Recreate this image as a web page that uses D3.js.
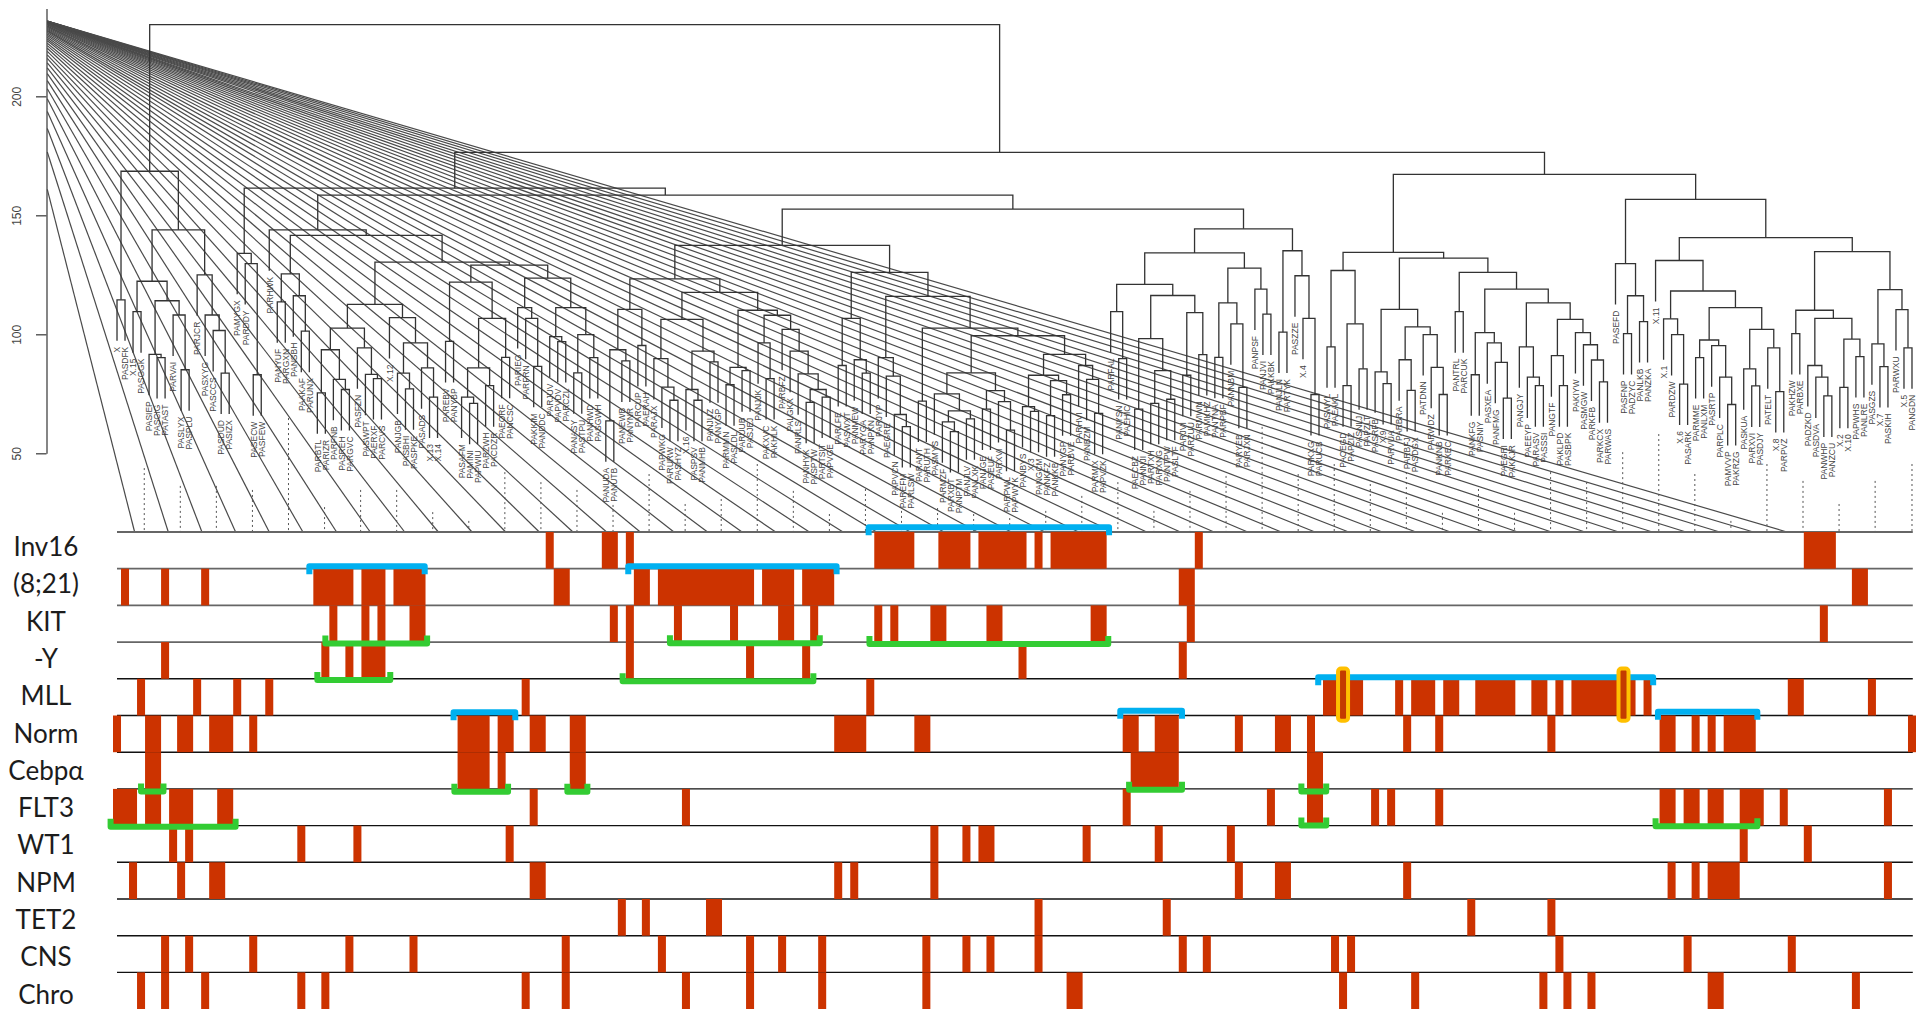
<!DOCTYPE html>
<html lang="en">
    <head>
        <title>AML dendrogram with mutation tracks</title>
        <meta charset="utf-8">
        <script src="https://d3js.org/d3.v7.min.js"></script>
        <style>
            * {
                margin: 0;
                padding: 0;
            }
            body {
                background-color: white;
                overflow: hidden;
            }
            svg {
                display: block;
            }
            .leaf {
                font-family: "Liberation Sans", Arial, sans-serif;
                font-size: 8.5px;
                fill: #444;
            }
            .rowLabel {
                font-family: Lato, sans-serif;
                font-size: 26px;
                fill: #1c1c1c;
            }
            .tick text {
                font-family: "Liberation Sans", Arial, sans-serif;
                font-size: 12px;
                fill: #444;
            }
        </style>
    </head>
    <body>
        <script>

            const leafNames = ["X","PASDFK","X.15","PASGGK","PASIEP","PASCIG","PATAST","PARVAI","PASLYX","PASPLU","PARJCR","PASXYG","PASCCS","PASDUD","PASIZX",
                "PAMYGX","PARDDY","PASECW","PASFEW","PARHWK","PANYUF","PARGXN","PANSBH","PAAKAF","PARUNX","PARBTL","PARIZR","PARFNB","PASREH","PARGVC",
                "PASFZN","PASWPT","PAERXF","PARCVS","X.12","PANJGB","PASBHI","PASPKE","PASADS","X.13","X.14","PAREBV","PANYBP","PASAFM","PAMINI",
                "PAPWIU","PARZWH","PACDZR","PAEORF","PANCSC","PARIEG","PARFRN","PAKKIM","PANDDC","PARJUV","PAPVDV","PARCZL","PANASY","PASTPU","PANHWD",
                "PASGWH","PANUDA","PANUTB","PANEWB","PANYNR","PARCUP","PAERAH","PARAJX","PAPWKG","PARURW","PASHYZ","X.16","PASPSV","PANMHB","PANJUZ",
                "PANYGP","PARMMN","PASLDL","PARUUB","PASJEJ","PANJJK","PAKXVC","PAKHLK","PARBFZ","PALGKX","PANRLS","PANHYK","PASPTW","PARTSIT","PAPVGE",
                "PARLFE","PASWXT","PANMEW","PARYGA","PANPKN","PARJYP","PAEGRE","PAPVCN","PAREFM","PARLSW","PARANT","PARUTH","PASMYS","PARMZF","PARXBT",
                "PANPTM","PANJLV","PANLXK","PANJGE","PASEUF","PARXVI","PARPWL","PAPWYK","PANBYS","X.3","PANGCM","PANKFZ","PANKKB","PANYGP","PARBVE",
                "PARHVI","PANBZM","PARMIX","PAPVZK","PARFAL","PANYSN","PAEHIC","PAECBZ","PANNJI","PARTXH","PARXNG","PANTPW","PASLTF","PARJVI","PARZUU",
                "PARMWN","PAMKHZ","PANTNA","PARPBF","PANNBM","PARYEB","PARJXN","PANPSF","PANJVI","PAKKBK","PANJLN","PARTYK","PASZZE","X.4","PARKXG",
                "PARUCB","PASWYL","PAEAKL","PACEGD","PAPZIZ","PASNLJ","PAPZLT","PASRFB","X.9","PARVUA","PARBRA","PARBFJ","PASDGX","PATDNN","PARWDZ",
                "PANKNB","PARXEC","PANTRL","PARCUK","PANKFG","PASNIY","PASXEA","PANFMG","PAEGRI","PAKKJR","PANGJY","PAEEYP","PARASV","PASSSI","PANGTF",
                "PAKLPD","PASBPK","PAKIYW","PASMGW","PARKFB","PARKCX","PARWAS","PASEFD","PASFNP","PADZYC","PANLKB","PANZKA","X.11","X.1","PARDZW",
                "X.6","PASARK","PARMME","PANLXM","PASRTP","PARPLC","PAMVVP","PAKRZG","PASKUA","PARXVI","PASDJY","PATELT","X.8","PARPVZ","PAKHZW",
                "PARBXE","PADZKD","PASDVA","PANWHP","PANZCU","X.2","X.10","PAPWHS","PANLRE","PASGZS","X.7","PASKIH","PARWXU","X.5","PANGDN"];

            // tree pieces as [height, left, right], 0 is the next leaf in leafNames
            const clusterA = [168.5, [114.5,0,0],
                [143.9,
                    [122.3, [109.5,0,0], [114.1, [91.6,0,[90.2,0,0]], [108.1,0,[85.1,0,0]]]],
                    [125,0,[108.1,0,[101.6,0,[83.7,0,0]]]]]];
            const clusterB = [134,0,[129.7,0,[83,0,0]]];
            const clusterC1 = [125.4, [113.6,0,0], [116.2,0,[101.3,0,0]]];
            const clusterC2 = [112.6,
                [102.6,
                    [93.5, [75.4,0,0], [81.1,0,[76.8,0,0]]],
                    [94.3,0,[83.2,0,[81.4,0,0]]]],
                [107,0,[96.4, [83.7,0,[77.1,0,0]], [85.9,0,[73.6,0,0]]]]];
            const clusterC3 = [129.1,
                [121.9, [97,0,0], [106.7, [85.9,[73.6,0,[71,0,0]],[78.4,0,0]], [90.3,0,0]]],
                [123.6,
                    [111.2,0,[106.7,0,[86.5,0,0]]],
                    [111.2, [99,0,[96.9,0,0]], [99.9,[83.8,0,0],[90.2,0,0]]]]];
            const clusterD = [123.3,
                [110.5, [93.5,[63.6,0,0],[88.8,0,0]], [95.3,0,0]],
                [117.6,
                    [106.3,
                        [89.8,0,[77.8,0,[72.3,0,0]]],
                        [92.9,[76.8,0,[72.3,0,0]],[88.4,0,0]]],
                    [110.1,
                        [86.1,[78.8,0,0],[84.7,0,0]],
                        [108,
                            [96.4,0,[81.4,0,0]],
                            [102.1,0,[92.9,0,[83.4,0,[76.8,[71.4,0,0],[73.6,0,0]]]]]]]]];
            const clusterE = [126,
                [106.7,[86.9,0,0],[89.3,0,[83.7,0,0]]],
                [115.9,
                    [90.2,0,[82.4,0,[66.3,0,[61.2,0,0]]]],
                    [102.6, [71.9,0,0],
                        [99.4,
                            [83.8,
                                [75,0,[67.8,[63.2,0,[59.1,0,0]],[64.5,0,0]]],
                                [76.3,[68.6,0,0],[71.7,0,[59.7,0,0]]]],
                            [91.6,
                                [82.8,[69.6,0,[67.6,0,0]],[80.5,[65.8,0,0],[74.6,0,0]]],
                                [86.9,0,[81.1,0,[66.8,0,0]]]]]]]];
            const clusterF = [144.3,
                [134.2,
                    [121,
                        [109.5,0,[89.8,0,0]],
                        [116.3,
                            [98.2,[68.6,0,0],[84.7,[71,0,0],[72.7,0,0]]],
                            [109.1,[82.8,0,0],[91.5,0,0]]]],
                    [127.8,
                        [113.2,[90.3,0,0],[104.4,0,[77.7,0,0]]],
                        [119,0,[108.5,0,0]]]],
                [135.1,[100.9,0,0],[124.6,0,[106.7,0,[74.7,0,0]]]]];
            const clusterG = [134.4,
                [126.8,[94.7,0,0],[104.4,[78.4,0,0],[85.5,0,0]]],
                [132,
                    [110.5,
                        [84.2,0,[79.3,0,0]],
                        [103.1,[89.3,0,[76.4,0,0]],[99.9,0,[86.1,0,[74.7,0,0]]]]],
                    [126,
                        [109.5,0,0],
                        [119,
                            [100.7,[83,0,0],[96.4,0,[88.2,0,[73.2,0,0]]]],
                            [113.2,
                                [94.7,0,[82,0,[78.4,0,0]]],
                                [106.3,[91,0,[78.4,0,0]],[100.7,0,[95.6,0,[89.2,0,[80,0,0]]]]]]]]]];
            const clusterH = [156.7,
                [129.7,0,[116.2,[100.3,0,0],[105.3,0,0]]],
                [140.6,
                    [131,0,[118.2,
                        [106.5,0,[99.9,0,[79.1,0,0]]],
                        [111.2,
                            [97.6,[90.2,0,0],[95.2,0,[82,0,[70.5,0,0]]]],
                            [102.1,[85.5,0,[78.3,0,0]],[94.3,0,[75.9,0,0]]]]]],
                    [134.7,
                        [110.1,
                            [100.3,0,0],
                            [106.7,[86.9,0,[82,0,[74.1,0,0]]],[98,[77.7,0,0],[90.6,0,0]]]],
                        [118.8,[96,0,[86.4,0,0]],[110.4,0,[94.3,0,0]]]]]];

            const treeRoot = [230.1, clusterA,
                [176.4,
                    [161.4, clusterB,
                        [158.5,
                            [143.9,0,[141.6,clusterC1,[130.3,clusterC2,clusterC3]]],
                            [152.6,[137.4,clusterD,clusterE],clusterF]]],
                    [167.2,clusterG,clusterH]]];

            // the long diagonal lines: height on the axis, column at the bottom rule
            const fanStart = [160.9,176.6,186.5,193.6,199,203.2,206.6,209.5,211.9,214,215.9,217.4,218.9,220.2,221.3,222.3,223.3,224.1,224.8,225.5,
                226.2,226.8,227.3,227.7,228.2,228.6,229,229.3,229.6,230,230.3,230.5,230.7,230.9,231,231.1,231.2,231.3,231.3,231.4,
                231.4,231.4,231.5,231.5,231.5,231.5,231.6,231.6,231.6,231.6];
            const fanEnd = [2.7,6.9,11.1,15.3,19.5,23.7,27.9,32.1,36.4,40.6,44.8,49,53.2,57.4,61.6,65.8,70,74.2,78.5,82.7,
                86.9,91.1,95.3,99.5,103.7,107.9,112.1,116.3,120.5,124.8,129,133.2,137.4,141.6,145.8,150,154.2,158.4,162.6,166.9,
                171.1,175.3,179.5,183.7,187.9,192.1,196.3,200.5,204.7,208.9];

            // dotted verticals above the bottom rule
            const dotCol = [3.9,8.4,12.9,17.4,21.9,26.4,30.9,35.4,39.9,44.4,48.9,53.4,57.9,62.4,66.9,71.4,75.9,80.4,84.9,89.4,
                93.9,98.4,102.9,107.4,111.9,116.4,120.9,125.4,129.9,134.4,138.9,143.4,147.9,152.4,156.9,161.4,165.9,170.4,174.9,179.4,
                183.9,188.4,192.9,197.4,201.9,206.4,210.9,215.4,219.9,224.5];
            const dotTop = [43.8,36.3,36.3,34.6,64.8,27.4,34.6,34.6,25.3,21.6,42.1,37.9,34.6,28.3,
                41.3,28.7,30.8,45.5,34.2,24.5,35,25.8,27,24.5,22.8,25.8,32.1,37.9,25.8,34.2,40.5,61.1,
                41.3,45.5,37.1,42.1,25,35,25,42.1,37.9,50.5,58.1,41.3,21.6,45.5,38.4,28.7,38.4,45.5];

            // mutation tracks, each run is [first column, number of columns]
            const rowNames = ["Inv16","(8;21)","KIT","-Y","MLL","Norm","Cebpα","FLT3","WT1","NPM","TET2","CNS","Chro"];
            const inv16Runs = [[54,1],[61,2],[64,1],[95,5],[103,4],[108,6],[115,1],[117,7],[135,1],[211,4]];
            const t821Runs = [[1,1],[6,1],[11,1],[25,5],[31,3],[35,4],[55,2],[65,2],[68,12],[81,4],[86,4],[133,2],[217,2]];
            const kitRuns = [[27,1],[31,1],[33,1],[37,2],[62,1],[64,1],[70,1],[77,1],[83,2],[87,1],[95,1],[97,1],[102,2],[109,2],[122,2],[134,1],[213,1]];
            const minusYRuns = [[6,1],[26,1],[29,1],[31,3],[64,1],[79,1],[86,1],[113,1],[133,1]];
            const mllRuns = [[3,1],[10,1],[15,1],[19,1],[51,1],[94,1],[151,5],[160,1],[162,3],[166,2],[170,5],[177,2],[180,1],[182,8],[191,1],[209,2],[219,1]];
            const normRuns = [[0,1],[4,2],[8,2],[12,3],[17,1],[43,4],[48,2],[52,2],[57,2],[90,4],[100,2],[126,2],[130,3],[140,1],[145,2],[149,1],[161,1],[165,1],[179,1],[193,2],[197,1],[199,1],[201,4],[224,1]];
            const cebpaRuns = [[4,2],[43,4],[48,1],[57,2],[127,6],[149,2]];
            const flt3Runs = [[0,3],[4,2],[7,3],[13,2],[52,1],[71,1],[126,1],[144,1],[149,2],[157,1],[159,1],[165,1],[193,2],[196,2],[199,2],[203,3],[208,1],[221,1]];
            const wt1Runs = [[7,1],[9,1],[23,1],[30,1],[49,1],[102,1],[106,1],[108,2],[121,1],[130,1],[139,1],[203,1],[211,1]];
            const npmRuns = [[2,1],[8,1],[12,2],[52,2],[90,1],[92,1],[102,1],[140,1],[145,2],[161,1],[194,1],[197,1],[199,4],[221,1]];
            const tet2Runs = [[63,1],[66,1],[74,2],[115,1],[131,1],[169,1],[179,1]];
            const cnsRuns = [[6,1],[9,1],[17,1],[29,1],[37,1],[56,1],[68,1],[79,1],[83,1],[88,1],[101,1],[106,1],[109,1],[115,1],[133,1],[136,1],[152,1],[154,1],[180,1],[196,1],[209,1]];
            const chroRuns = [[3,1],[6,1],[11,1],[23,1],[26,1],[51,1],[56,1],[71,1],[79,1],[88,1],[101,1],[119,2],[153,1],[162,1],[178,1],[181,1],[184,1],[199,2],[217,1]];
            const rowRuns = [inv16Runs,t821Runs,kitRuns,minusYRuns,mllRuns,normRuns,cebpaRuns,flt3Runs,wt1Runs,npmRuns,tet2Runs,cnsRuns,chroRuns];

            // brackets: [from column, to column, row position of the bar]
            const blueBrackets = [[94.3,124.3,-0.13],[24.5,38.9,0.93],[64.3,90.3,0.93],[42.5,50.2,4.91],[125.7,133.4,4.87],[150.4,192.2,3.96],[192.8,205.2,4.9]];
            const greenBrackets = [[26.5,39.2,3.04],[25.5,34.6,4.03],[63.6,87.4,4.07],[69.5,88.2,3.03],[94.4,124.2,3.05],[3.5,6.3,7.07],[42.6,49.3,7.08],
                [56.7,59.2,7.08],[-0.3,15.3,8.03],[126.8,133.4,7.02],[148.3,151.4,7.07],[148.3,151.4,8],[192.5,205.2,8.02]];
            const markedCols = [153,188];

            const w = 1920;
            const h = 1009;

            const xCol = d3.scaleLinear().domain([0, 225]).range([113, 1916]);
            const yHeight = d3.scaleLinear().domain([50, 200]).range([453.3, 96.3]);
            const yRow = d3.scaleLinear().domain([0, 13]).range([532, 1009.1]);
            const yLabel = d3.scaleLinear().domain([0, 12]).range([547, 994.5]);
            const hang = 17.2;

            const svg = d3.select("body")
                .append("svg")
                .attr("width", w)
                .attr("height", h);

            const chartLines = svg.append("g");

            // fan
            chartLines.selectAll("line.fan")
                .data(fanStart)
                .enter()
                .append("line")
                .attr("class", "fan")
                .attr("x1", xCol(-8.2))
                .attr("y1", d => yHeight(d))
                .attr("x2", (d, i) => xCol(fanEnd[i]))
                .attr("y2", yRow(0))
                .attr("stroke", "#4a4a4a")
                .attr("stroke-width", 1.2);

            chartLines.selectAll("line.dot")
                .data(dotCol)
                .enter()
                .append("line")
                .attr("class", "dot")
                .attr("x1", d => xCol(d))
                .attr("x2", d => xCol(d))
                .attr("y1", (d, i) => yHeight(dotTop[i]))
                .attr("y2", yRow(0))
                .attr("stroke", "#555")
                .attr("stroke-width", 1)
                .attr("stroke-dasharray", "2 3");

            // axis
            const yAxis = d3.axisLeft(yHeight.copy().domain([50, 236.9]).range([453.3, 8.5]))
                .tickValues([50, 100, 150, 200])
                .tickSize(10.5)
                .tickPadding(9)
                .tickSizeOuter(0);

            const axisG = svg.append("g")
                .attr("transform", "translate(46.5, 0)")
                .call(yAxis);
            axisG.selectAll("path, line")
                .attr("stroke", "#444")
                .attr("stroke-width", 1.3);
            axisG.selectAll("text")
                .attr("transform", "rotate(-90)")
                .attr("text-anchor", "middle")
                .attr("x", 0)
                .attr("dy", 0)
                .attr("y", -26);

            // tree
            const root = d3.hierarchy(treeRoot, d => Array.isArray(d) ? d.slice(1) : null);
            root.leaves().forEach((leaf, i) => {
                leaf.col = i;
                leaf.name = leafNames[i];
                leaf.x = xCol(i + 0.5);
            });
            root.eachAfter(node => {
                if (node.children) node.x = d3.mean(node.children, c => c.x);
            });

            const childY = (child) => child.children
                ? yHeight(child.data[0])
                : yHeight(child.parent.data[0] - hang);

            svg.append("g")
                .selectAll("path")
                .data(root.descendants().filter(d => d.children))
                .enter()
                .append("path")
                .attr("fill", "none")
                .attr("stroke", "#333")
                .attr("stroke-width", 1.3)
                .attr("d", d => {
                    const [a, b] = d.children;
                    const y = yHeight(d.data[0]);
                    return `M${a.x},${childY(a)}V${y}H${b.x}V${childY(b)}`;
                });

            svg.append("g")
                .selectAll("text")
                .data(root.leaves())
                .enter()
                .append("text")
                .attr("class", "leaf")
                .attr("transform", d => `translate(${d.x},${childY(d) + 6}) rotate(-90) scale(1,1.1)`)
                .attr("text-anchor", "end")
                .attr("dy", "0.35em")
                .text(d => d.name);

            // tracks
            svg.append("g")
                .selectAll("line")
                .data(d3.range(0, 13))
                .enter()
                .append("line")
                .attr("x1", xCol(0.5))
                .attr("x2", xCol(224.6))
                .attr("y1", d => yRow(d))
                .attr("y2", d => yRow(d))
                .attr("stroke", d => d < 4 ? "#666" : "#111")
                .attr("stroke-width", d => d < 4 ? 1.8 : 1.4);

            svg.append("g")
                .selectAll("g")
                .data(rowRuns)
                .enter()
                .append("g")
                .each(function (runs, row) {
                    d3.select(this)
                        .selectAll("rect")
                        .data(runs)
                        .enter()
                        .append("rect")
                        .attr("x", d => xCol(d[0]))
                        .attr("y", yRow(row))
                        .attr("width", d => xCol(d[0] + d[1]) - xCol(d[0]))
                        .attr("height", yRow(row + 1) - yRow(row))
                        .attr("fill", "#CC3300");
                });

            svg.append("g")
                .selectAll("text")
                .data(rowNames)
                .enter()
                .append("text")
                .attr("class", "rowLabel")
                .attr("x", 46)
                .attr("y", (d, i) => yLabel(i))
                .attr("text-anchor", "middle")
                .attr("dy", "0.35em")
                .text(d => d);

            // brackets
            const bracketPath = (d, leg) => {
                const y = yRow(d[2]);
                return `M${xCol(d[0])},${y + leg}V${y}H${xCol(d[1])}V${y + leg}`;
            };

            svg.append("g")
                .selectAll("path")
                .data(blueBrackets)
                .enter()
                .append("path")
                .attr("d", d => bracketPath(d, 8))
                .attr("fill", "none")
                .attr("stroke", "#00B0F0")
                .attr("stroke-width", 6)
                .attr("stroke-linejoin", "round");

            svg.append("g")
                .selectAll("path")
                .data(greenBrackets)
                .enter()
                .append("path")
                .attr("d", d => bracketPath(d, -8))
                .attr("fill", "none")
                .attr("stroke", "#33CC33")
                .attr("stroke-width", 6)
                .attr("stroke-linejoin", "round");

            svg.append("g")
                .selectAll("rect")
                .data(markedCols)
                .enter()
                .append("rect")
                .attr("x", d => xCol(d) - 1)
                .attr("y", yRow(3.72))
                .attr("width", xCol(1) - xCol(0) + 2)
                .attr("height", yRow(5.14) - yRow(3.72))
                .attr("rx", 3)
                .attr("fill", "#C43A00")
                .attr("stroke", "#FFC000")
                .attr("stroke-width", 4);

        </script>
    </body>
</html>
